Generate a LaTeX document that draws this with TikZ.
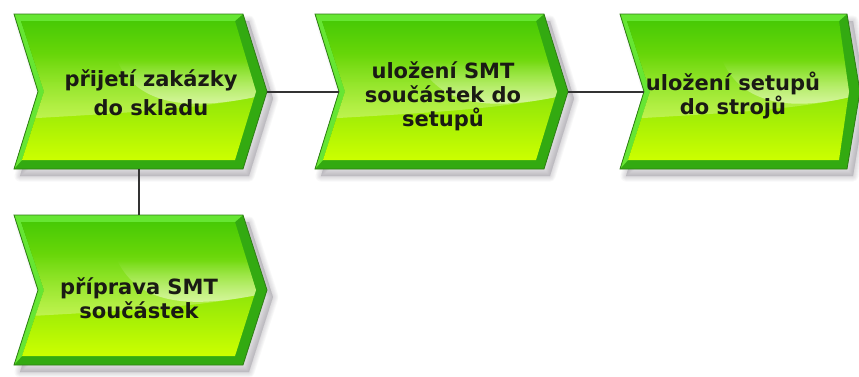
\documentclass[tikz,border=0pt]{standalone}
\usepackage{fontspec}
\setmainfont{DejaVu Sans}
\usetikzlibrary{fadings}

\definecolor{evtdark}{HTML}{33AA11}
\definecolor{evtlight}{HTML}{66E633}
\definecolor{evttop}{HTML}{48CA06}
\definecolor{evtmid}{HTML}{8AE40A}
\definecolor{evtbottom}{HTML}{CCFF00}
\definecolor{evtline}{HTML}{2E7D14}
\definecolor{evtshadow}{HTML}{66606E}
\definecolor{evtink}{HTML}{1A1A14}
\definecolor{connink}{HTML}{333333}

\tikzfading[name=glossfade, top color=transparent!100, bottom color=transparent!45]
\tikzfading[name=glossfadeb, top color=transparent!100, bottom color=transparent!70]

\tikzset{
  evt w/.store in=\evtW, evt w=229,
  evt h/.store in=\evtH, evt h=155,
  evt d/.store in=\evtD, evt d=24,
  evttext/.style={font=\bfseries\fontsize{21}{24}\selectfont, align=center, text=evtink, inner sep=0pt},
  conn/.style={draw=connink, line width=2pt},
  pics/evt/.style={code={
    \pgfmathsetmacro\evtM{\evtH/2}
    % soft drop shadow
    \foreach \i in {1,...,6}{
      \path[fill=evtshadow, draw=evtshadow, opacity=0.045, line width={13-2*\i}, line join=round]
        (6,7) -- (\evtW+6,7) -- (\evtW+\evtD+6,\evtM+7) -- (\evtW+6,\evtH+7)
        -- (6,\evtH+7) -- (30,\evtM+7) -- cycle;
    }
    % dark bevel (right and bottom)
    \fill[evtdark] (0,0) -- (\evtW,0) -- (\evtW+\evtD,\evtM) -- (\evtW,\evtH)
      -- (0,\evtH) -- (24,\evtM) -- cycle;
    % light bevel (top and left)
    \fill[evtlight] (0,0) -- (\evtW,0) -- (\evtW-8,7) -- (7,7) -- (30,\evtM)
      -- (8,\evtH-9) -- (0,\evtH) -- (24,\evtM) -- cycle;
    % face with gradient
    \path[top color=evttop, bottom color=evtbottom, middle color=evtmid]
      (7,7) -- (\evtW-8,7) -- (\evtW+\evtD-11,\evtM) -- (\evtW-8,\evtH-9)
      -- (8,\evtH-9) -- (30,\evtM) -- cycle;
    % gloss
    \begin{scope}
      \clip (7,7) -- (\evtW-8,7) -- (\evtW+\evtD-11,\evtM) -- (\evtW-8,\evtH-9)
        -- (8,\evtH-9) -- (30,\evtM) -- cycle;
      \fill[white, path fading=glossfadeb]
        (0,0.25*\evtH) -- (0,0.68*\evtH)
        .. controls (0.45*\evtW,0.64*\evtH) and (0.8*\evtW,0.62*\evtH) .. (\evtW+\evtD,0.52*\evtH)
        -- (\evtW+\evtD,0.25*\evtH) -- cycle;
      \fill[white, path fading=glossfade]
        (0.45*\evtW,0.3*\evtH) .. controls (0.55*\evtW,0.62*\evtH) and (0.8*\evtW,0.62*\evtH)
        .. (\evtW+\evtD,0.52*\evtH) -- (\evtW+\evtD,0.3*\evtH) -- cycle;
    \end{scope}
    % outline
    \draw[evtline, line width=0.8pt, line join=miter] (0,0) -- (\evtW,0) -- (\evtW+\evtD,\evtM)
      -- (\evtW,\evtH) -- (0,\evtH) -- (24,\evtM) -- cycle;
    \coordinate (-notch) at (24,\evtM);
    \coordinate (-tip) at (\evtW+\evtD,\evtM);
    \coordinate (-top) at (0.5*\evtW,0);
    \coordinate (-bot) at (0.5*\evtW,\evtH);
  }}
}

\begin{document}
\begin{tikzpicture}[x=1pt, y=-1pt]
  \clip (0,0) rectangle (859,376);
  \fill[white] (0,0) rectangle (859,376);

  % process steps
  \pic (a) at (14,14) {evt};
  \pic (c) at (315,14) {evt};
  \pic[evt w=227, evt d=13] (d) at (620,14) {evt};
  \pic[evt h=150] (b) at (14,215) {evt};

  % labels
  \node[evttext, font=\bfseries\fontsize{21}{29}\selectfont] (ta) at (151,93) {přijetí zakázky\\do skladu};
  \node[evttext] (tc) at (443,96) {uložení SMT\\součástek do\\setupů};
  \node[evttext] (td) at (733,96) {uložení setupů\\do strojů};
  \node[evttext] (tb) at (139,298) {příprava SMT\\součástek};

  % connectors
  \draw[conn] (a-tip) -- (c-notch);
  \draw[conn] (c-tip) -- (d-notch);
  \draw[conn] (a-bot -| tb.center) -- (b-top -| tb.center);
\end{tikzpicture}
\end{document}
